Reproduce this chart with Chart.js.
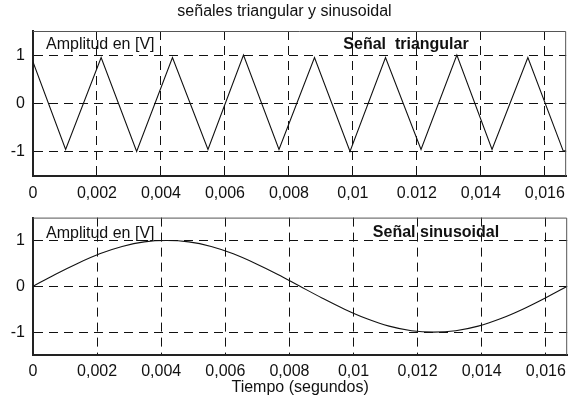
<!DOCTYPE html>
<html>
<head>
<meta charset="utf-8">
<script src="https://cdn.jsdelivr.net/npm/chart.js@4"></script>
<style>
  html, body { margin: 0; padding: 0; background: #fff; }
  #wrap { position: relative; width: 573px; height: 397px; }
  canvas { position: absolute; left: 0; }
</style>
</head>
<body>
<div id="wrap">
  <canvas id="panelTri" width="573" height="200" style="top:0;width:573px;height:200px"></canvas>
  <canvas id="panelSin" width="573" height="197" style="top:200px;width:573px;height:197px"></canvas>
</div>
<script>
// One 60 Hz cycle: time axis ends at 1/60 s
const timeEnd = 0.016667;

// Triangular signal: vertex times (s) and amplitudes (V)
const triTime  = [0, 0.00102, 0.00213, 0.00324, 0.00436, 0.00547, 0.00658, 0.00769,
                  0.0088, 0.00991, 0.01102, 0.01213, 0.01325, 0.01435, 0.01547, 0.01658, 0.016667];
const triValue = [0.86, -0.95, 0.95, -0.99, 0.95, -0.95, 1.0, -0.95,
                  0.95, -0.99, 0.95, -0.95, 1.0, -0.95, 0.95, -0.99, -0.97];

// Sinusoidal signal samples
const sinTime  = [0, 0.00069, 0.00139, 0.00208, 0.00278, 0.00347, 0.00417, 0.00486, 0.00556,
                  0.00625, 0.00694, 0.00764, 0.00833, 0.00903, 0.00972, 0.01042, 0.01111,
                  0.01181, 0.0125, 0.01319, 0.01389, 0.01458, 0.01528, 0.01597, 0.016667];
const sinValue = [0, 0.26, 0.5, 0.71, 0.87, 0.97, 1.0, 0.97, 0.87,
                  0.71, 0.5, 0.26, 0, -0.26, -0.5, -0.71, -0.87,
                  -0.97, -1.0, -0.97, -0.87, -0.71, -0.5, -0.26, 0];

// Axis ticks and their labels
const xTickValues   = [0, 0.002, 0.004, 0.006, 0.008, 0.01, 0.012, 0.014, 0.016];
const xLabelsTri    = ['0', '0,002', '0,004', '0,006', '0,008', '0,01', '0.012', '0,014', '0,016'];
const xLabelsSin    = ['0', '0,002', '0,004', '0,006', '0,008', '0,01', '0,012', '0,014', '0,016'];
const yTickValues   = [-1, 0, 1];
const yLabels       = ['-1', '0', '1'];

const FONT = '"Liberation Sans", Arial, Helvetica, sans-serif';
const INK = '#111';
const TEXT_SIZE = 16;

const toPoints = (xs, ys) => xs.map((x, i) => ({ x: x, y: ys[i] }));

// Thin frame on the top and right sides of the plot box
const frame = {
  id: 'frame',
  afterDraw(chart) {
    const { ctx, chartArea: a } = chart;
    ctx.save();
    ctx.strokeStyle = '#555';
    ctx.lineWidth = 1;
    ctx.beginPath();
    ctx.moveTo(a.left, a.top + 0.5);
    ctx.lineTo(a.right - 0.5, a.top + 0.5);
    ctx.lineTo(a.right - 0.5, a.bottom);
    ctx.stroke();
    ctx.restore();
  }
};

// Captions written inside each plot box
const panelText = {
  id: 'panelText',
  afterDraw(chart, args, opts) {
    const { ctx, chartArea: a } = chart;
    ctx.save();
    ctx.fillStyle = INK;
    ctx.textBaseline = 'middle';
    (opts.items || []).forEach(it => {
      ctx.font = (it.bold ? 'bold ' : '') + TEXT_SIZE + 'px ' + FONT;
      ctx.textAlign = it.align;
      ctx.fillText(it.text, a.left + it.dx, a.top + it.dy);
    });
    ctx.restore();
  }
};

function gridScale(extra) {
  return Object.assign({
    grid: { color: INK, lineWidth: 1, drawTicks: false },
    border: { color: '#222', width: 2, dash: [9, 6] }
  }, extra);
}

function makePanel(id, times, values, xLabels, cfg) {
  return new Chart(document.getElementById(id), {
    type: 'line',
    data: {
      datasets: [{
        data: toPoints(times, values),
        borderColor: INK,
        borderWidth: 1.1,
        pointRadius: 0,
        fill: false,
        tension: cfg.tension,
        cubicInterpolationMode: cfg.mode
      }]
    },
    options: {
      responsive: false,
      animation: false,
      devicePixelRatio: 1,
      layout: { padding: { left: 0, right: 4, top: cfg.padTop, bottom: 0 } },
      plugins: {
        legend: { display: false },
        tooltip: { enabled: false },
        title: cfg.title,
        panelText: { items: cfg.labels }
      },
      scales: {
        x: gridScale({
          type: 'linear',
          min: 0,
          max: timeEnd,
          afterBuildTicks: s => { s.ticks = xTickValues.map(v => ({ value: v })); },
          afterFit: s => { s.height = cfg.xHeight; },
          ticks: {
            autoSkip: false, maxRotation: 0, padding: cfg.xPad, color: INK,
            font: { family: FONT, size: TEXT_SIZE },
            callback: (v, i) => xLabels[i]
          },
          title: cfg.xTitle
        }),
        y: gridScale({
          type: 'linear',
          min: -1.5,
          max: 1.5,
          afterBuildTicks: s => { s.ticks = yTickValues.map(v => ({ value: v })); },
          afterFit: s => { s.width = 33; },
          ticks: {
            padding: 8, color: INK,
            font: { family: FONT, size: TEXT_SIZE },
            callback: (v, i) => yLabels[i]
          }
        })
      }
    },
    plugins: [frame, panelText]
  });
}

makePanel('panelTri', triTime, triValue, xLabelsTri, {
  tension: 0,
  mode: 'default',
  padTop: 0,
  xHeight: 24,
  xPad: 8,
  title: {
    display: true,
    text: 'señales triangular y sinusoidal',
    color: INK,
    font: { family: FONT, size: TEXT_SIZE, weight: 'normal', lineHeight: 1.2 },
    padding: { top: 2, bottom: 9.8 }
  },
  xTitle: { display: false },
  labels: [
    { text: 'Amplitud en [V]', bold: false, align: 'left', dx: 13, dy: 14 },
    { text: 'Señal  triangular', bold: true, align: 'center', dx: 373, dy: 14 }
  ]
});

makePanel('panelSin', sinTime, sinValue, xLabelsSin, {
  tension: 0.4,
  mode: 'monotone',
  padTop: 10,
  xHeight: 42,
  xPad: 7,
  title: { display: false },
  xTitle: {
    display: true,
    text: 'Tiempo (segundos)',
    color: INK,
    font: { family: FONT, size: TEXT_SIZE, lineHeight: 1.2 },
    padding: { top: 0, bottom: 0 }
  },
  labels: [
    { text: 'Amplitud en [V]', bold: false, align: 'left', dx: 13, dy: 16 },
    { text: 'Señal sinusoidal', bold: true, align: 'center', dx: 403, dy: 15 }
  ]
});
</script>
</body>
</html>
